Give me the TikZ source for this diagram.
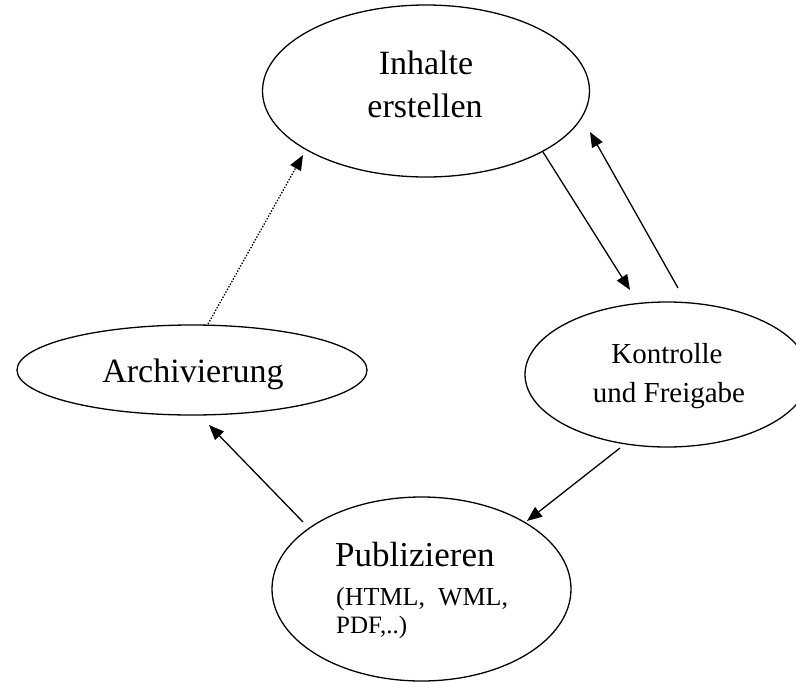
\documentclass[tikz,border=0pt]{standalone}
\usepackage{fontspec}
\setmainfont{Liberation Serif}
\usetikzlibrary{shapes.geometric,arrows.meta}
\begin{document}
\begin{tikzpicture}[x=1pt,y=-1pt,
  bubble/.style={draw=black,line width=1.3pt,ellipse,inner sep=0pt,fill=none},
  lbl/.style={inner sep=0pt,anchor=base},
  arr/.style={line width=1.3pt,-{Triangle[length=15pt,width=12pt]}},
  dotarr/.style={arr,dash pattern=on 1.4pt off 1.6pt}]
\useasboundingbox (0,0) rectangle (796,681);
\clip (0,0) rectangle (796,681);
\fill[white] (0,0) rectangle (796,681);
% ellipses
\node[bubble,minimum width=327pt,minimum height=172pt] (inh) at (426,91) {};
\node[bubble,minimum width=350pt,minimum height=90pt] (arc) at (192,370) {};
\node[bubble,minimum width=284pt,minimum height=145pt] (kon) at (667,374.5) {};
\node[bubble,minimum width=299pt,minimum height=184pt] (pub) at (421.5,589) {};
% texts
\node[lbl,font=\fontsize{34}{40}\selectfont] (t1) at (426,74) {Inhalte};
\node[lbl,font=\fontsize{34}{40}\selectfont] (t2) at (425,117) {erstellen};
\node[lbl,font=\fontsize{34}{40}\selectfont] (t3) at (193,382) {Archivierung};
\node[lbl,font=\fontsize{29}{34}\selectfont] (t4) at (667,363) {Kontrolle};
\node[lbl,font=\fontsize{29}{34}\selectfont] (t5) at (669,402) {und Freigabe};
\node[lbl,anchor=base west,font=\fontsize{35}{40}\selectfont] (t6) at (335,566) {Publizieren};
\node[lbl,anchor=base west,font=\fontsize{26}{30}\selectfont] (t7) at (336,605) {(HTML,\ \ WML,};
\node[lbl,anchor=base west,font=\fontsize{25}{30}\selectfont] (t8) at (336,633) {PDF,..)};
% connector end points
\coordinate (p1s) at (208,324);
\coordinate (p1e) at (303,155);
\coordinate (p2s) at (543,152);
\coordinate (p2e) at (630,290);
\coordinate (p3s) at (678,288);
\coordinate (p3e) at (590,132);
\coordinate (p4s) at (620,448);
\coordinate (p4e) at (527,521);
\coordinate (p5s) at (303,522);
\coordinate (p5e) at (209,425);
\draw[dotarr] (p1s) -- (p1e);
\draw[arr] (p2s) -- (p2e);
\draw[arr] (p3s) -- (p3e);
\draw[arr] (p4s) -- (p4e);
\draw[arr] (p5s) -- (p5e);
\end{tikzpicture}
\end{document}
